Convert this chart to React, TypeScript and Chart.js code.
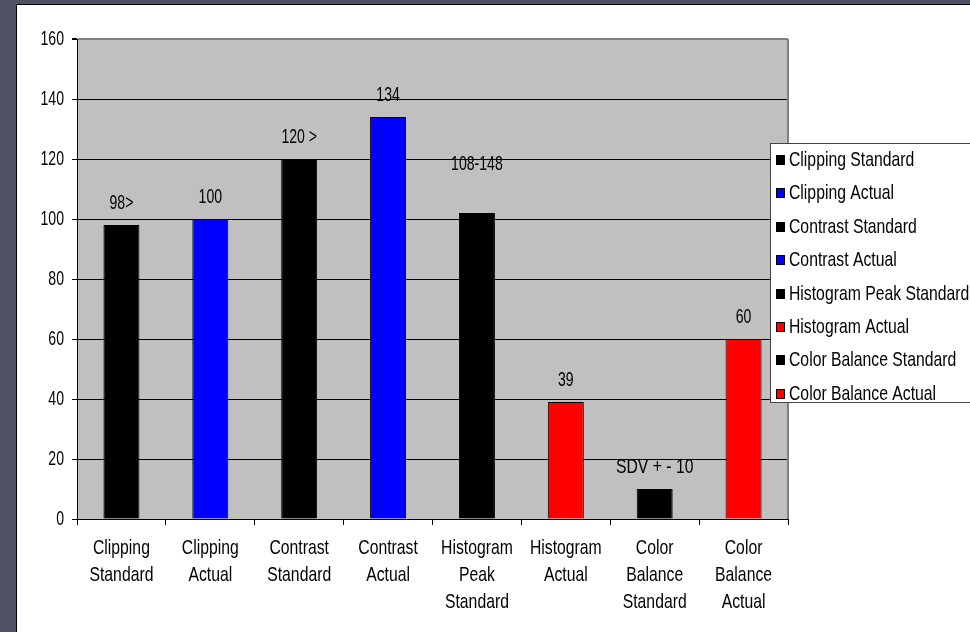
import React, { useEffect, useRef } from 'react';
import { Chart, registerables } from 'chart.js';

Chart.register(...registerables);

// Category names, split into the lines shown under each bar
const categories: string[][] = [
  ['Clipping', 'Standard'],
  ['Clipping', 'Actual'],
  ['Contrast', 'Standard'],
  ['Contrast', 'Actual'],
  ['Histogram', 'Peak', 'Standard'],
  ['Histogram', 'Actual'],
  ['Color', 'Balance', 'Standard'],
  ['Color', 'Balance', 'Actual'],
];

const values: number[] = [98, 100, 120, 134, 102, 39, 10, 60];

const valueLabels: string[] = ['98>', '100', '120 >', '134', '108-148', '39', 'SDV + - 10', '60'];

const barColors: string[] = [
  '#000000',
  '#0000ff',
  '#000000',
  '#0000ff',
  '#000000',
  '#ff0000',
  '#000000',
  '#ff0000',
];

const yMin = 0;
const yMax = 160;
const yStep = 20;

const FONT = '"Liberation Sans", Arial, Helvetica, sans-serif';
const FONT_SIZE = 21;

// The lettering is a tall, narrow sans: draw it squeezed horizontally.
function squeezeFor(text: string): number {
  return /^[0-9\s<>\-]+$/.test(text) ? 0.67 : 0.75;
}

function drawText(ctx: CanvasRenderingContext2D, text: string, x: number, y: number, align: CanvasTextAlign) {
  ctx.save();
  ctx.translate(x, y);
  ctx.scale(squeezeFor(text), 1);
  ctx.font = `${FONT_SIZE}px ${FONT}`;
  ctx.fillStyle = '#000';
  ctx.textAlign = align;
  ctx.textBaseline = 'middle';
  ctx.fillText(text, 0, 0);
  ctx.restore();
}

// Grey plot background and the grey right-hand border
const plotBackground = {
  id: 'plotBackground',
  beforeDraw(chart: any) {
    const { ctx, chartArea: a } = chart;
    ctx.save();
    ctx.fillStyle = '#c0c0c0';
    ctx.fillRect(a.left, a.top, a.right - a.left, a.bottom - a.top);
    ctx.restore();
  },
  afterDraw(chart: any) {
    const { ctx, chartArea: a } = chart;
    ctx.save();
    ctx.strokeStyle = '#808080';
    ctx.lineWidth = 2;
    ctx.beginPath();
    ctx.moveTo(a.right, a.top);
    ctx.lineTo(a.right, a.bottom);
    ctx.stroke();
    ctx.restore();
  },
};

// Axis tick labels, placed at the scales' own tick pixels
const axisLabels = {
  id: 'axisLabels',
  afterDraw(chart: any) {
    const { ctx } = chart;
    const xs = chart.scales.x;
    const ys = chart.scales.y;
    ys.ticks.forEach((t: any, i: number) => {
      drawText(ctx, String(t.value), ys.right - 13, ys.getPixelForTick(i), 'right');
    });
    xs.ticks.forEach((_t: any, i: number) => {
      const x = xs.getPixelForTick(i);
      categories[i].forEach((line, j) => {
        drawText(ctx, line, x, xs.top + 29 + j * 27, 'center');
      });
    });
  },
};

// Text written above every bar
const barLabels = {
  id: 'barLabels',
  afterDatasetsDraw(chart: any) {
    const { ctx } = chart;
    const meta = chart.getDatasetMeta(0);
    meta.data.forEach((bar: any, i: number) => {
      const lift = i === 4 ? 49 : 22;
      drawText(ctx, valueLabels[i], bar.x, bar.y - lift, 'center');
    });
  },
};

// Boxed legend with one entry per bar
const boxLegend = {
  id: 'boxLegend',
  afterDraw(chart: any) {
    const { ctx } = chart;
    const left = 770.5;
    const top = 143.5;
    const bottom = 402.5;
    ctx.save();
    ctx.fillStyle = '#fff';
    ctx.fillRect(left, top, 980 - left, bottom - top);
    ctx.strokeStyle = '#444';
    ctx.lineWidth = 1;
    ctx.strokeRect(left, top, 980 - left, bottom - top);
    ctx.restore();
    categories.forEach((c, i) => {
      const y = Math.round(160 + i * 33.4);
      ctx.save();
      ctx.fillStyle = barColors[i];
      ctx.fillRect(776, y - 5, 9, 10);
      ctx.strokeStyle = '#000';
      ctx.lineWidth = 1;
      ctx.strokeRect(776.5, y - 4.5, 8, 9);
      ctx.restore();
      drawText(ctx, c.join(' '), 789, y, 'left');
    });
  },
};

export default function App() {
  const canvasRef = useRef<HTMLCanvasElement | null>(null);

  useEffect(() => {
    const canvas = canvasRef.current;
    if (!canvas) return;
    const chart = new Chart(canvas, {
      type: 'bar',
      data: {
        labels: categories,
        datasets: [
          {
            data: values,
            backgroundColor: barColors,
            borderColor: '#000',
            borderWidth: 1,
            barPercentage: 0.405,
            categoryPercentage: 1,
          },
        ],
      },
      options: {
        animation: false,
        responsive: false,
        maintainAspectRatio: false,
        layout: { padding: { left: 0, top: 39, right: 182, bottom: 0 } },
        plugins: {
          legend: { display: false },
          tooltip: { enabled: false },
        },
        scales: {
          x: {
            grid: {
              offset: true,
              drawOnChartArea: false,
              drawTicks: true,
              tickLength: 6,
              color: '#000',
            },
            border: { color: '#000', width: 1 },
            ticks: {
              color: 'rgba(0,0,0,0)',
              font: { family: FONT, size: 15 },
              maxRotation: 0,
              autoSkip: false,
            },
            afterFit(s: any) {
              s.height = 113;
            },
          },
          y: {
            min: yMin,
            max: yMax,
            ticks: {
              stepSize: yStep,
              color: 'rgba(0,0,0,0)',
              font: { family: FONT, size: 15 },
            },
            grid: {
              color: (c: any) => (c.tick && c.tick.value === yMax ? '#808080' : '#000'),
              lineWidth: (c: any) => (c.tick && c.tick.value === yMax ? 2 : 1),
              tickLength: 5,
              tickColor: '#000',
            },
            border: { color: '#000', width: 1 },
            afterFit(s: any) {
              s.width = 77;
            },
          },
        },
      },
      plugins: [plotBackground, axisLabels, barLabels, boxLegend],
    });
    return () => chart.destroy();
  }, []);

  return (
    <div
      style={{
        position: 'fixed',
        left: 0,
        top: 0,
        width: 970,
        height: 632,
        overflow: 'hidden',
        background: '#4f5263',
      }}
    >
      <div
        style={{
          position: 'absolute',
          left: 16,
          top: 4,
          width: 970,
          height: 640,
          background: '#fff',
          border: '1px solid #000',
        }}
      />
      <canvas
        ref={canvasRef}
        width={970}
        height={632}
        style={{ position: 'absolute', left: 0, top: 0, display: 'block' }}
      />
    </div>
  );
}
